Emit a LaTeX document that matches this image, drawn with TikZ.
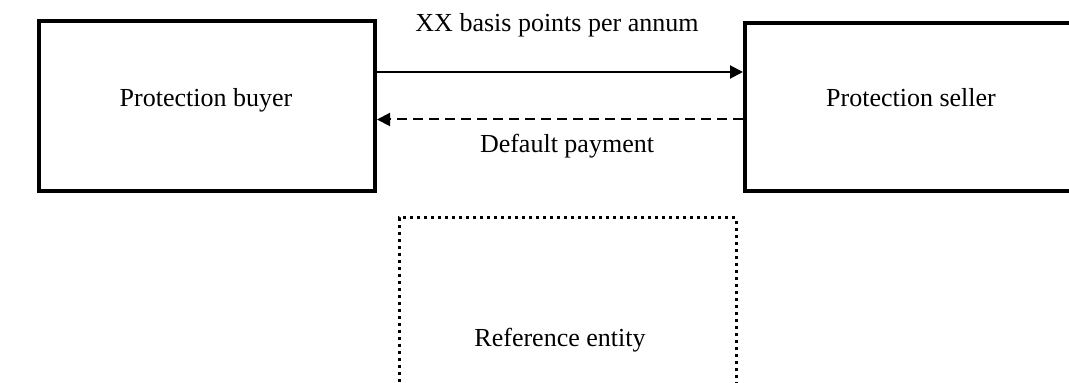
\documentclass[tikz,border=0pt]{standalone}
\usepackage{fontspec}
\setmainfont{Liberation Serif}
\usetikzlibrary{arrows.meta}
\begin{document}
\begin{tikzpicture}[x=1pt,y=1pt,
  party/.style={draw, line width=4pt, minimum width=336pt, inner sep=0pt},
  refbox/.style={draw, line width=3pt, dash pattern=on 3.3pt off 3.7pt, minimum width=337pt, minimum height=250pt, inner sep=0pt},
  lbl/.style={font=\fontsize{26}{30}\selectfont, anchor=base, inner sep=0pt},
  flow/.style={line width=2pt, -{Triangle[length=13pt,width=13pt]}},
  flowdash/.style={flow, dash pattern=on 10pt off 6pt}]
\useasboundingbox (0,0) rectangle (1069,383);
\clip (0,0) rectangle (1069,383);
\node[party, minimum height=170pt] (buyer) at (207,276.5) {};
\node[party, minimum height=168pt] (seller) at (913,275.5) {};
\node[refbox] (ref) at (567.5,40) {};
\node[lbl] (buyertxt) at (206,276) {Protection buyer};
\node[lbl] (sellertxt) at (911,276) {Protection seller};
\node[lbl] (reftxt) at (560,36) {Reference entity};
\node[lbl] (premtxt) at (557,351) {XX basis points per annum};
\node[lbl] (deftxt) at (567,230) {Default payment};
\draw[flow] (buyer.east |- 0,311) -- (seller.west |- 0,311);
\draw[flowdash] (seller.west |- 0,263.5) -- (buyer.east |- 0,263.5);
\end{tikzpicture}
\end{document}
